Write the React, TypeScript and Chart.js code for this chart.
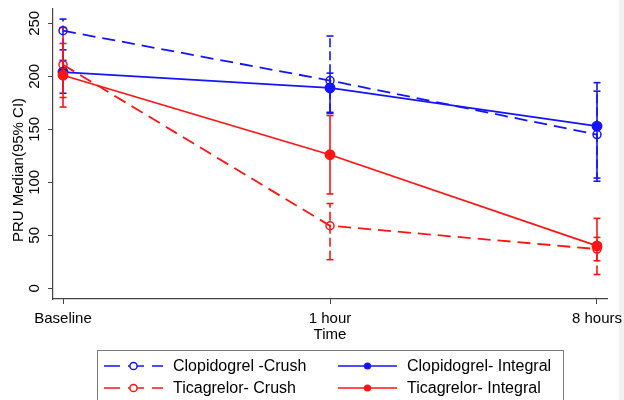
import React, { useEffect, useRef } from 'react';
import { Chart, registerables } from 'chart.js';

Chart.register(...registerables);

// ---- data ----
const timeLabels = ['Baseline', '1 hour', '8 hours'];
const timeIndex = [0, 1, 2];
const yTickValues = [0, 50, 100, 150, 200, 250];

const seriesNames = ['Clopidogrel -Crush', 'Clopidogrel- Integral', 'Ticagrelor- Crush', 'Ticagrelor- Integral'];

const clopCrush = [243, 196, 145];
const clopCrushLo = [215, 166, 101];
const clopCrushHi = [254, 238, 194];

const clopInt = [204, 189, 153];
const clopIntLo = [184, 165, 104];
const clopIntHi = [225, 203, 186];

const ticaCrush = [211, 59, 37];
const ticaCrushLo = [171, 27, 13];
const ticaCrushHi = [246, 80, 48];

const ticaInt = [201, 126, 40];
const ticaIntLo = [180, 89, 26];
const ticaIntHi = [231, 163, 66];

const BLUE = '#1414ff';
const RED = '#ff1414';
const FONT = '"Liberation Sans", Arial, Helvetica, sans-serif';

function makeDataset(label: string, values: number[], lo: number[], hi: number[], color: string, dashed: boolean, order: number) {
  return {
    label,
    data: timeIndex.map((x, i) => ({ x, y: values[i] })),
    errLo: lo,
    errHi: hi,
    dashedStyle: dashed,
    borderColor: color,
    backgroundColor: color,
    borderWidth: 1.8,
    borderDash: dashed ? [13, 7] : [],
    pointRadius: dashed ? 4 : 4.7,
    pointBorderWidth: 1.5,
    pointBackgroundColor: dashed ? 'rgba(0,0,0,0)' : color,
    pointBorderColor: color,
    pointStyle: 'circle',
    tension: 0,
    fill: false,
    order,
  };
}

const errorBarPlugin = {
  id: 'errorBars',
  beforeDatasetsDraw(chart: any) {
    const { ctx, scales } = chart;
    const xs = scales.x;
    const ys = scales.y;
    chart.data.datasets.forEach((ds: any) => {
      ctx.save();
      ctx.strokeStyle = ds.borderColor;
      ctx.lineWidth = 1.6;
      ctx.setLineDash(ds.dashedStyle ? [9, 4] : []);
      timeIndex.forEach((xv, i) => {
        const x = xs.getPixelForValue(xv);
        const y1 = ys.getPixelForValue(ds.errLo[i]);
        const y2 = ys.getPixelForValue(ds.errHi[i]);
        ctx.beginPath();
        ctx.moveTo(x, y1);
        ctx.lineTo(x, y2);
        ctx.stroke();
      });
      ctx.setLineDash([]);
      timeIndex.forEach((xv, i) => {
        const x = xs.getPixelForValue(xv);
        [ds.errLo[i], ds.errHi[i]].forEach((v: number) => {
          const y = ys.getPixelForValue(v);
          ctx.beginPath();
          ctx.moveTo(x - 3.5, y);
          ctx.lineTo(x + 3.5, y);
          ctx.stroke();
        });
      });
      ctx.restore();
    });
  },
};

const decorPlugin = {
  id: 'decor',
  beforeDraw(chart: any) {
    const { ctx, width, height } = chart;
    ctx.save();
    ctx.fillStyle = '#ffffff';
    ctx.fillRect(0, 0, width, height);
    ctx.fillStyle = '#f2f2f2';
    ctx.fillRect(619, 0, width - 619, height);
    ctx.restore();
  },
  afterDraw(chart: any) {
    const { ctx } = chart;
    // y-axis title
    ctx.save();
    ctx.translate(19, 170);
    ctx.rotate(-Math.PI / 2);
    ctx.font = `15px ${FONT}`;
    ctx.fillStyle = '#000';
    ctx.textAlign = 'center';
    ctx.textBaseline = 'middle';
    ctx.fillText('PRU Median(95% CI)', 0, 0);
    ctx.restore();

    // legend
    ctx.save();
    ctx.strokeStyle = '#7a7a7a';
    ctx.lineWidth = 1;
    ctx.strokeRect(97.5, 350.5, 466, 60);
    const colX = [104, 338];
    const rowY = [366, 388];
    const ds = chart.data.datasets;
    const layout = [
      [0, 0, 0],
      [1, 1, 0],
      [2, 0, 1],
      [3, 1, 1],
    ];
    layout.forEach(([di, c, r]) => {
      const d = ds[di];
      const x0 = colX[c];
      const y = rowY[r];
      ctx.strokeStyle = d.borderColor;
      ctx.lineWidth = 1.5;
      ctx.setLineDash(d.dashedStyle ? [16, 8] : []);
      ctx.beginPath();
      ctx.moveTo(x0, y);
      ctx.lineTo(x0 + 59, y);
      ctx.stroke();
      ctx.setLineDash([]);
      ctx.beginPath();
      ctx.arc(x0 + 29.5, y, 3.6, 0, Math.PI * 2);
      if (d.dashedStyle) {
        ctx.fillStyle = '#fff';
        ctx.fill();
        ctx.stroke();
      } else {
        ctx.fillStyle = d.borderColor;
        ctx.fill();
      }
      ctx.fillStyle = '#000';
      ctx.font = `16px ${FONT}`;
      ctx.textAlign = 'left';
      ctx.textBaseline = 'middle';
      ctx.fillText(d.label, x0 + 69, y + 1);
    });
    ctx.restore();
  },
};

export default function App() {
  const canvasRef = useRef<HTMLCanvasElement | null>(null);

  useEffect(() => {
    document.body.style.margin = '0';
    const canvas = canvasRef.current;
    if (!canvas) return;
    const chart = new Chart(canvas, {
      type: 'line',
      data: {
        datasets: [
          makeDataset(seriesNames[0], clopCrush, clopCrushLo, clopCrushHi, BLUE, true, 3),
          makeDataset(seriesNames[1], clopInt, clopIntLo, clopIntHi, BLUE, false, 2),
          makeDataset(seriesNames[2], ticaCrush, ticaCrushLo, ticaCrushHi, RED, true, 1),
          makeDataset(seriesNames[3], ticaInt, ticaIntLo, ticaIntHi, RED, false, 0),
        ] as any,
      },
      options: {
        responsive: false,
        animation: false,
        devicePixelRatio: 1,
        layout: { padding: { left: 0, right: 17, top: 9, bottom: 55 } },
        plugins: {
          legend: { display: false },
          tooltip: { enabled: false },
        },
        scales: {
          x: {
            type: 'linear',
            min: -0.0375,
            max: 2.0375,
            afterBuildTicks: (s: any) => {
              s.ticks = timeIndex.map((v) => ({ value: v }));
            },
            afterFit: (s: any) => {
              s.height = 46;
              s.paddingLeft = 0;
              s.paddingRight = 0;
            },
            ticks: {
              autoSkip: false,
              maxRotation: 0,
              minRotation: 0,
              padding: 6,
              color: '#000',
              font: { family: FONT, size: 15 },
              callback: (v: any) => timeLabels[Math.round(Number(v))] ?? '',
            },
            grid: { drawOnChartArea: false, tickLength: 5, tickColor: '#444', color: '#444' },
            border: { display: true, color: '#444', width: 1.2 },
            title: {
              display: true,
              text: 'Time',
              color: '#000',
              font: { family: FONT, size: 15 },
              padding: { top: 0, bottom: 1 },
            },
          },
          y: {
            type: 'linear',
            min: -10.1,
            max: 263.5,
            afterBuildTicks: (s: any) => {
              s.ticks = yTickValues.map((v) => ({ value: v }));
            },
            afterFit: (s: any) => {
              s.width = 53;
              s.paddingTop = 0;
              s.paddingBottom = 0;
            },
            ticks: {
              minRotation: 90,
              maxRotation: 90,
              crossAlign: 'center',
              padding: 1,
              color: '#000',
              font: { family: FONT, size: 15 },
            },
            grid: { drawOnChartArea: false, tickLength: 5, tickColor: '#444', color: '#444' },
            border: { display: true, color: '#444', width: 1.2 },
          },
        },
      } as any,
      plugins: [decorPlugin, errorBarPlugin],
    });
    return () => chart.destroy();
  }, []);

  return <canvas ref={canvasRef} width={624} height={400} style={{ display: 'block', width: 624, height: 400 }} />;
}
